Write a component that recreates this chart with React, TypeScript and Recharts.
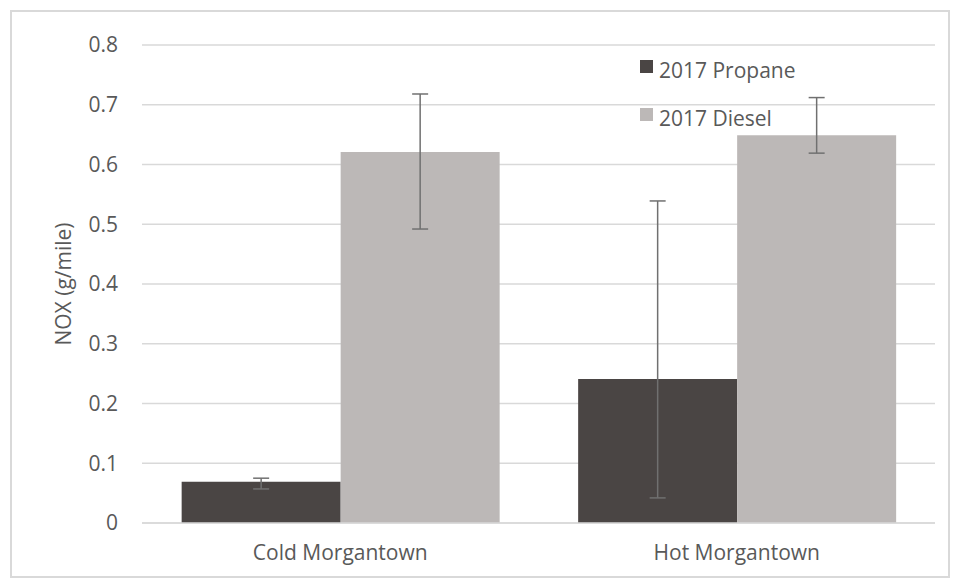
import React from 'react';
import { BarChart, Bar, XAxis, YAxis, CartesianGrid, ErrorBar } from 'recharts';

const categories = ['Cold Morgantown', 'Hot Morgantown'];
const propane = [0.069, 0.241];
const propaneLow = [0.057, 0.042];
const propaneHigh = [0.075, 0.539];
const diesel = [0.621, 0.649];
const dieselLow = [0.492, 0.619];
const dieselHigh = [0.718, 0.712];
const yTicks = [0, 0.1, 0.2, 0.3, 0.4, 0.5, 0.6, 0.7, 0.8];
const seriesNames = ['2017 Propane', '2017 Diesel'];

const PROPANE_COLOR = '#4a4544';
const DIESEL_COLOR = '#bcb8b7';
const TEXT = '#595959';
const FONT = '"Open Sans", sans-serif';
const FS = 21;

const data = categories.map((name, i) => ({
  name,
  propane: propane[i],
  propaneErr: [propane[i] - propaneLow[i], propaneHigh[i] - propane[i]],
  diesel: diesel[i],
  dieselErr: [diesel[i] - dieselLow[i], dieselHigh[i] - diesel[i]],
}));

const legendItems = [
  { label: seriesNames[0], color: PROPANE_COLOR, top: 60 },
  { label: seriesNames[1], color: DIESEL_COLOR, top: 108 },
];

export default function App() {
  return (
    <div style={{ position: 'absolute', left: 0, top: 0, width: 959, height: 582, background: '#fff' }}>
      <div
        style={{
          position: 'absolute',
          left: 10,
          top: 10,
          width: 940,
          height: 568,
          border: '2px solid #d9d9d9',
          boxSizing: 'border-box',
        }}
      />
      <BarChart
        width={959}
        height={582}
        data={data}
        margin={{ top: 45, right: 24, bottom: 29, left: 82 }}
        barCategoryGap="10%"
        barGap={0}
        style={{ position: 'absolute', left: 0, top: 0 }}
      >
        <CartesianGrid vertical={false} stroke="#d9d9d9" strokeWidth={1.3} />
        <XAxis
          dataKey="name"
          height={30}
          axisLine={{ stroke: '#d9d9d9', strokeWidth: 1.3 }}
          tickLine={false}
          tickMargin={16}
          tick={{ fill: TEXT, fontSize: FS, fontFamily: FONT }}
        />
        <YAxis
          width={60}
          domain={[0, 0.8]}
          ticks={yTicks}
          axisLine={false}
          tickLine={false}
          tickSize={0}
          tickMargin={24}
          tickFormatter={(v: number) => (v === 0 ? '0' : v.toFixed(1))}
          tick={{ fill: TEXT, fontSize: FS, fontFamily: FONT }}
          label={{
            value: 'NOX (g/mile)',
            angle: -90,
            position: 'insideLeft',
            offset: -18,
            style: { fill: TEXT, fontSize: FS, fontFamily: FONT, textAnchor: 'middle' },
          }}
        />
        <Bar dataKey="propane" name={seriesNames[0]} fill={PROPANE_COLOR} isAnimationActive={false}>
          <ErrorBar dataKey="propaneErr" width={8} stroke="#707070" strokeWidth={1.5} direction="y" />
        </Bar>
        <Bar dataKey="diesel" name={seriesNames[1]} fill={DIESEL_COLOR} isAnimationActive={false}>
          <ErrorBar dataKey="dieselErr" width={8} stroke="#707070" strokeWidth={1.5} direction="y" />
        </Bar>
      </BarChart>
      {legendItems.map((d) => (
        <div key={d.label}>
          <span
            style={{
              position: 'absolute',
              left: 640,
              top: d.top,
              width: 13,
              height: 13,
              background: d.color,
            }}
          />
          <span
            style={{
              position: 'absolute',
              left: 659,
              top: d.top,
              fontFamily: FONT,
              fontSize: FS,
              color: TEXT,
              lineHeight: '20px',
              whiteSpace: 'nowrap',
            }}
          >
            {d.label}
          </span>
        </div>
      ))}
    </div>
  );
}
